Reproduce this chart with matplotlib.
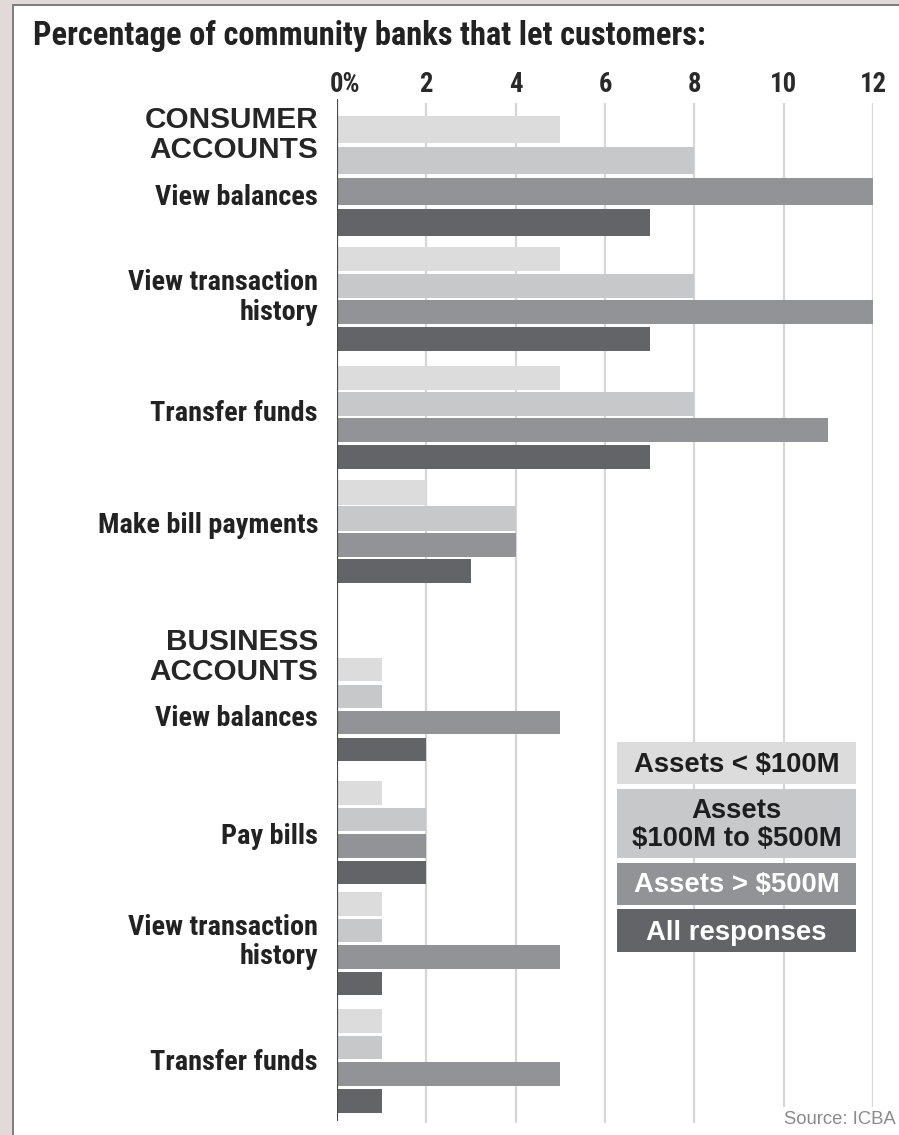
import matplotlib
matplotlib.use("Agg")
import matplotlib.pyplot as plt
from matplotlib import font_manager as fm
from matplotlib.patches import Rectangle
from matplotlib.transforms import Affine2D

# ---------------- data ----------------
consumer_tasks = ["View balances", "View transaction\nhistory", "Transfer funds", "Make bill payments"]
business_tasks = ["View balances", "Pay bills", "View transaction\nhistory", "Transfer funds"]
series_names = ["Assets < $100M", "Assets\n$100M to $500M", "Assets > $500M", "All responses"]

consumer_lt100 = [5, 5, 5, 2]
consumer_100_500 = [8, 8, 8, 4]
consumer_gt500 = [12, 12, 11, 4]
consumer_all = [7, 7, 7, 3]

business_lt100 = [1, 1, 1, 1]
business_100_500 = [1, 2, 1, 1]
business_gt500 = [5, 2, 5, 5]
business_all = [2, 2, 1, 1]

x_ticks = [0, 2, 4, 6, 8, 10, 12]
x_tick_labels = ["0%", "2", "4", "6", "8", "10", "12"]

title = "Percentage of community banks that let customers:"
section_titles = ["CONSUMER\nACCOUNTS", "BUSINESS\nACCOUNTS"]
source = "Source: ICBA"

# ---------------- style / layout ----------------
series_colors = ["#dcdcdd", "#c7c8ca", "#929396", "#636467"]
legend_text_colors = ["#1e1e1e", "#1e1e1e", "#ffffff", "#ffffff"]

W, H, DPI = 899, 1135, 100
X0_PX, X12_PX = 337, 873

group_top = [116, 247, 366, 480, 658, 781, 892, 1009]
bar_pitch = [31, 26.5, 26.2, 26.3, 26.7, 26.5, 26.6, 26.7]
bar_h = [27, 24, 24, 24.5, 23, 23.5, 23.5, 23.5]
label_baselines = [[205], [290, 320], [421], [533], [726], [844], [935, 964], [1070]]
section_baselines = [[128, 158], [650, 680]]
label_right_px = 318

legend_x = (617, 856)
legend_boxes = [(742, 784), (789, 858), (863, 905), (909, 952)]
legend_baselines = [[772], [818, 846], [892], [940]]

fonts = fm.fontManager.ttflist
avail = {f.name for f in fonts}
narrow = None
for cand in ["Liberation Sans Narrow", "Roboto Condensed", "Open Sans Condensed", "DejaVu Sans Condensed"]:
    if cand in avail:
        narrow = cand
        break
wide = "Liberation Sans" if "Liberation Sans" in avail else "DejaVu Sans"
cond = narrow if narrow else wide

fig = plt.figure(figsize=(W / DPI, H / DPI), dpi=DPI)
fig.patch.set_facecolor("#e2dad9")
renderer = fig.canvas.get_renderer()

# pixel (top-left origin) transform
PX = Affine2D().scale(1.0 / W, -1.0 / H).translate(0, 1) + fig.transFigure


def fit_size(text, family, weight, target_px, base=20.0):
    t = fig.text(0, 0, text, fontsize=base, family=family, weight=weight, parse_math=False)
    w = t.get_window_extent(renderer).width
    t.remove()
    return base * target_px / w


# white panel with border
fig.add_artist(Rectangle((13, 5), W, H, transform=PX, facecolor="white",
                         edgecolor="#7c7c7c", linewidth=1.4, zorder=0))

ax = fig.add_axes([X0_PX / W, 0, (X12_PX - X0_PX) / W, 1])
ax.set_xlim(0, 12)
ax.set_ylim(H, 0)
ax.axis("off")
ax.patch.set_alpha(0)

# gridlines and zero axis
ax.vlines(x_ticks[1:], 103, 1123, color="#d6d6d6", lw=1.6, zorder=1)
ax.vlines([0], 99, 1121, color="#4a4a4a", lw=1.6, zorder=4)

# bars
groups_vals = []
for i in range(4):
    groups_vals.append([consumer_lt100[i], consumer_100_500[i], consumer_gt500[i], consumer_all[i]])
for i in range(4):
    groups_vals.append([business_lt100[i], business_100_500[i], business_gt500[i], business_all[i]])

for s in range(4):
    ys = [group_top[g] + s * bar_pitch[g] + bar_h[g] / 2 for g in range(8)]
    vals = [groups_vals[g][s] for g in range(8)]
    hs = [bar_h[g] for g in range(8)]
    ax.barh(ys, vals, height=hs, color=series_colors[s], linewidth=0, zorder=2)

# tick labels
tick_size = fit_size("10", cond, "bold", 27)
for t, lab in zip(x_ticks, x_tick_labels):
    if lab.endswith("%"):
        ax.annotate(lab, (t, 92), xytext=(-7, 0), textcoords="offset pixels",
                    ha="left", va="baseline", fontsize=tick_size, family=cond,
                    weight="bold", color="#2a2a2a", parse_math=False)
    else:
        ax.text(t, 92, lab, ha="center", va="baseline", fontsize=tick_size,
                family=cond, weight="bold", color="#2a2a2a", parse_math=False)

# category labels
label_size = fit_size("View balances", cond, "bold", 162)
all_tasks = consumer_tasks + business_tasks
for g, task in enumerate(all_tasks):
    for line, yb in zip(task.split("\n"), label_baselines[g]):
        fig.text(label_right_px, yb, line, transform=PX, ha="right", va="baseline",
                 fontsize=label_size, family=cond, weight="bold", color="#222222",
                 parse_math=False)

# section titles
sec_size = fit_size("CONSUMER", wide, "bold", 173)
for st, bls in zip(section_titles, section_baselines):
    for line, yb in zip(st.split("\n"), bls):
        fig.text(label_right_px, yb, line, transform=PX, ha="right", va="baseline",
                 fontsize=sec_size, family=wide, weight="bold", color="#262626",
                 parse_math=False)

# title
title_size = fit_size(title, cond, "bold", 672)
fig.text(33, 45, title, transform=PX, ha="left", va="baseline",
         fontsize=title_size, family=cond, weight="bold", color="#222222",
         parse_math=False)

# legend
leg_size = fit_size("Assets < $100M", wide, "bold", 206)
for s in range(4):
    y1, y2 = legend_boxes[s]
    fig.add_artist(Rectangle((legend_x[0], y1), legend_x[1] - legend_x[0], y2 - y1,
                             transform=PX, facecolor=series_colors[s], edgecolor="none", zorder=5))
    cx = (legend_x[0] + legend_x[1]) / 2
    for line, yb in zip(series_names[s].split("\n"), legend_baselines[s]):
        fig.text(cx, yb, line, transform=PX, ha="center", va="baseline",
                 fontsize=leg_size, family=wide, weight="bold",
                 color=legend_text_colors[s], zorder=6, parse_math=False)

# source
src_size = fit_size(source, wide, "normal", 112)
fig.text(896, 1124, source, transform=PX, ha="right", va="baseline",
         fontsize=src_size, family=wide, color="#8a8a8a", zorder=6, parse_math=False,
         bbox=dict(facecolor="white", edgecolor="none", pad=3))

fig.savefig("out.png", dpi=DPI, facecolor=fig.get_facecolor())
